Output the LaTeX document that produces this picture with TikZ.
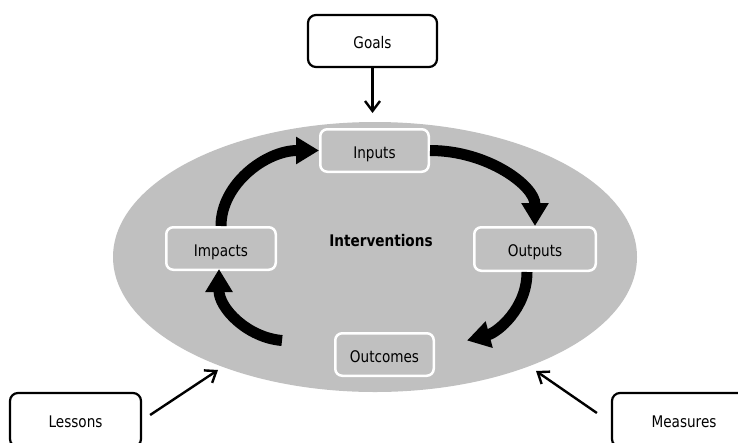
\documentclass[tikz,border=0pt]{standalone}
\usepackage{fontspec}
\setmainfont[FakeStretch=0.85]{DejaVu Sans}
\usetikzlibrary{arrows.meta,shapes.geometric}
\definecolor{ovalgray}{RGB}{192,192,192}
\begin{document}
\begin{tikzpicture}[x=1pt,y=-1pt,
  every node/.style={font=\fontsize{16}{19}\selectfont, inner sep=0pt,
    text height=15pt, text depth=0pt},
  outerbox/.style={draw=black, line width=2.2pt, rounded corners=8pt, fill=white},
  stagebox/.style={draw=white, line width=2.5pt, rounded corners=7pt, fill=ovalgray},
  cyclearrow/.style={line width=11pt, -{Triangle[length=23pt,width=26pt]}},
  thinarrow/.style={line width=2.4pt, -{Straight Barb[length=10pt,width=15pt]}}
]
\useasboundingbox (0,0) rectangle (738,442);
\clip (0,0) rectangle (738,442);

% the oval holding the cycle
\node[ellipse, fill=ovalgray, minimum width=524pt, minimum height=270pt,
  text height=0pt] (oval) at (375,257) {};

% outer boxes
\node[outerbox, minimum width=129pt, minimum height=52pt] (goals) at (372.5,41) {Goals};
\node[outerbox, minimum width=131pt, minimum height=54pt] (lessons) at (75.5,420) {Lessons};
\node[outerbox, minimum width=144pt, minimum height=54pt] (measures) at (684,420) {Measures};

% stages of the cycle
\node[stagebox, minimum width=108.5pt, minimum height=42.5pt] (inputs) at (374.5,150.5) {Inputs};
\node[stagebox, minimum width=109.5pt, minimum height=42.5pt] (impacts) at (221,248.5) {Impacts};
\node[stagebox, minimum width=121.5pt, minimum height=43.5pt] (outputs) at (535,249) {Outputs};
\node[stagebox, minimum width=98.5pt, minimum height=42.5pt] (outcomes) at (384.5,354.5) {Outcomes};

\node[font=\fontsize{16}{19}\selectfont\bfseries] (interv) at (381,239) {Interventions};

% cycle arrows
\draw[cyclearrow] (impacts.north) .. controls +(0,-42) and +(-53,0) .. (inputs.west);
\draw[cyclearrow] (inputs.east) .. controls +(58,0) and +(0,-40) .. (outputs.north);
\draw[cyclearrow] ([xshift=-8pt]outputs.south) .. controls +(0,37) and +(30,-8)
  .. ([shift={(32pt,14pt)}]outcomes.east);
\draw[cyclearrow] ([shift={(-52pt,14pt)}]outcomes.west) .. controls +(-35,-3) and +(0,39)
  .. ([shift={(-2pt,2pt)}]impacts.south);

% influences on the oval
\coordinate (goalsTip) at (372.5,113);
\coordinate (lessonsTip) at (218,370);
\coordinate (measuresTip) at (536,371);
\draw[thinarrow] (goals.south) -- (goalsTip);
\draw[thinarrow] ([shift={(8pt,5pt)}]lessons.east) -- (lessonsTip);
\draw[thinarrow] ([shift={(-14pt,7pt)}]measures.west) -- (measuresTip);
\end{tikzpicture}
\end{document}
